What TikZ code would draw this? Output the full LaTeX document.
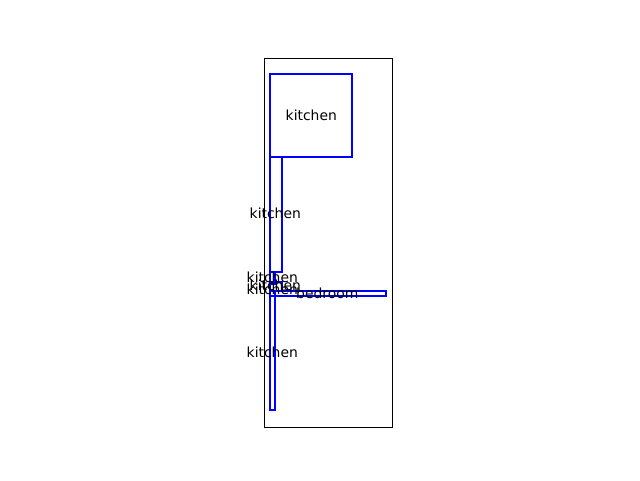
\documentclass[tikz,border=0pt]{standalone}
\usepackage{fontspec}
\setmainfont{DejaVu Sans}
\begin{document}
\begin{tikzpicture}[x=1pt,y=-1pt]
\tikzstyle{plan}=[rectangle,draw=black,line width=1.1pt,inner sep=0pt,minimum width=128pt,minimum height=369pt]
\tikzstyle{room}=[rectangle,draw=blue,line width=1.3pt,inner sep=0pt]
\tikzstyle{tag}=[inner sep=0pt,text=black,font=\fontsize{13.9pt}{16pt}\selectfont]
\useasboundingbox (0,0) rectangle (640,480);
\node[plan] (outline) at (328.5,243) {};
\node[room,minimum width=82pt,minimum height=83pt] (kitchenA) at (311,115.5) {};
\node[room,minimum width=12pt,minimum height=115pt] (kitchenB) at (276,214.5) {};
\node[room,minimum width=5pt,minimum height=12pt] (kitchenC) at (272.5,278) {};
\node[room,minimum width=12pt,minimum height=9pt] (kitchenD) at (276,286.5) {};
\node[room,minimum width=5pt,minimum height=5pt] (kitchenE) at (272.5,293.5) {};
\node[room,minimum width=116pt,minimum height=5pt] (bedroom) at (328,293.5) {};
\node[room,minimum width=5pt,minimum height=114pt] (kitchenF) at (272.5,353) {};
\node[tag] (labelA) at (311.3,115.5) {kitchen};
\node[tag] (labelB) at (275.3,213.5) {kitchen};
\node[tag] (labelC) at (272.3,277.5) {kitchen};
\node[tag] (labelD) at (275.3,285.5) {kitchen};
\node[tag] (labelE) at (272.3,289.5) {kitchen};
\node[tag] (labelG) at (327.3,293.5) {bedroom};
\node[tag] (labelF) at (272.3,352.5) {kitchen};
\end{tikzpicture}
\end{document}
